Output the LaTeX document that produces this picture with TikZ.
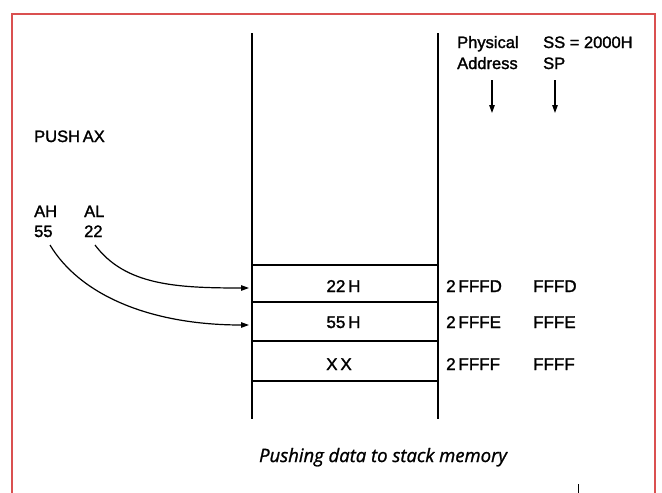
\documentclass[tikz,border=0pt]{standalone}
\usepackage{fontspec}
\setmainfont{Liberation Sans}[FakeBold=1.6]
\newfontfamily\capfont{Open Sans}[FakeBold=1.2]
\usetikzlibrary{arrows.meta}
\definecolor{frame}{RGB}{218,80,80}
\tikzset{
  lbl/.style={font=\fontsize{16.5}{18}\selectfont, inner sep=0pt, anchor=base west},
  addr/.style={font=\fontsize{17}{18}\selectfont, inner sep=0pt, anchor=base west},
  cell/.style={font=\fontsize{17}{18}\selectfont, inner sep=0pt, anchor=base},
  wire/.style={line width=1.2pt},
  pusharrow/.style={line width=1.2pt, -{Triangle[length=8pt,width=5.5pt]}},
}
\begin{document}
\begin{tikzpicture}[x=1pt,y=-1pt]
\useasboundingbox (0,0) rectangle (662,493);
\fill[white] (0,0) rectangle (662,493);
% frame
\draw[frame, line width=1.5pt] (12,493) -- (12,14) -- (655,14) -- (655,493);
% stack
\coordinate (lt) at (252,33);
\coordinate (lb) at (252,419);
\coordinate (rt) at (438,33);
\coordinate (rb) at (438,419);
\draw[wire] (lt) -- (lb);
\draw[wire] (rt) -- (rb);
\foreach \y/\n in {265/h1,302/h2,341/h3,381/h4}{
  \coordinate (\n l) at (252,\y);
  \coordinate (\n r) at (438,\y);
  \draw[wire] (\n l) -- (\n r);
}
\node[cell] (c1) at (343.5,292) {22\,H};
\node[cell] (c2) at (343.5,328) {55\,H};
\node[cell] (c3) at (339,370) {X\,X};
% addresses
\node[addr] (p1) at (446,292) {2\,FFFD};
\node[addr] (p2) at (446,328) {2\,FFFE};
\node[addr] (p3) at (446,370) {2\,FFFF};
\node[addr] (s1) at (533,292) {FFFD};
\node[addr] (s2) at (533,328) {FFFE};
\node[addr] (s3) at (533,370) {FFFF};
% headers
\node[lbl] (ph1) at (457,48) {Physical};
\node[lbl] (ph2) at (457,69) {Address};
\node[lbl] (ss) at (543,48) {SS = 2000H};
\node[lbl] (sp) at (543,69) {SP};
\coordinate (pa1) at (492,80);
\coordinate (pa2) at (492,113);
\coordinate (sa1) at (555,80);
\coordinate (sa2) at (555,113);
\draw[pusharrow] (pa1) -- (pa2);
\draw[pusharrow] (sa1) -- (sa2);
% left side
\node[lbl] (push) at (34,142) {PUSH\,AX};
\node[lbl] (ah) at (34,217) {AH};
\node[lbl] (ahv) at (34,237) {55};
\node[lbl] (al) at (84,217) {AL};
\node[lbl] (alv) at (84,237) {22};
\coordinate (alstart) at (95,245);
\coordinate (ahstart) at (50,245);
\coordinate (alend) at (249,288);
\coordinate (ahend) at (249,325);
\draw[pusharrow] (alstart) .. controls (125,285) and (175,288) .. (alend);
\draw[pusharrow] (ahstart) .. controls (80,295) and (150,325) .. (ahend);
% caption
\node[font=\capfont\itshape\fontsize{18.5}{20}\selectfont, inner sep=0pt, anchor=base] (cap) at (383,462) {Pushing data to stack memory};
% stray tick
\coordinate (t1) at (578,484);
\coordinate (t2) at (578,493);
\draw[line width=1pt] (t1) -- (t2);
\end{tikzpicture}
\end{document}
